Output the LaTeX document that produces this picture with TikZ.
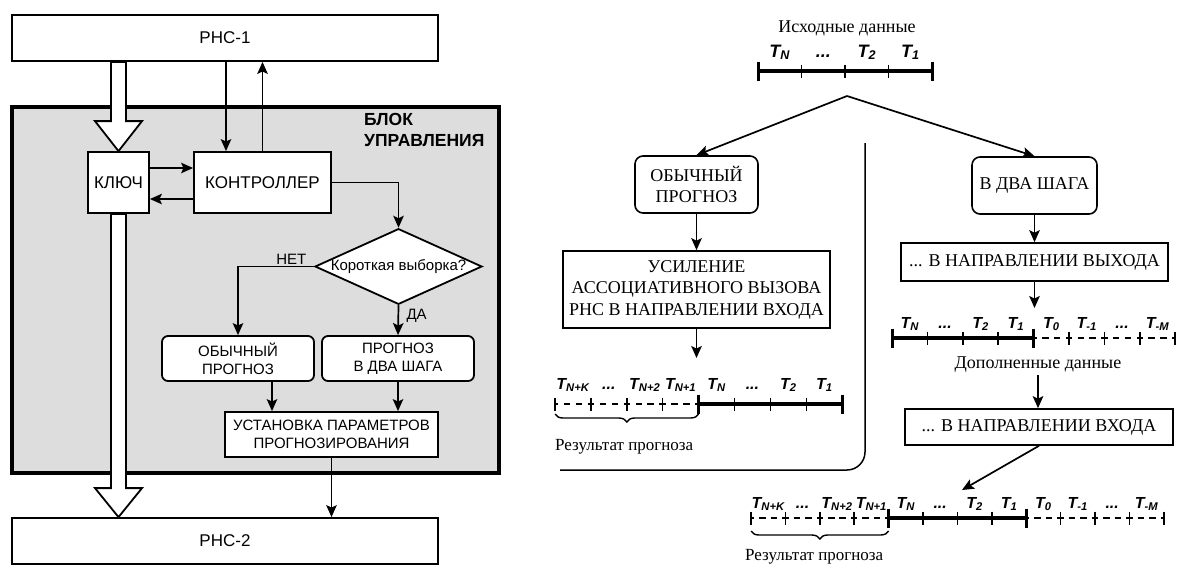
\documentclass[tikz,border=0pt]{standalone}
\usepackage{fontspec}
\setmainfont{Liberation Serif}
\setsansfont{Liberation Sans}
\usetikzlibrary{positioning, calc, arrows.meta, shapes.geometric, decorations.pathreplacing}

\definecolor{blockgray}{RGB}{221,221,221}

\newcommand{\tn}[1]{T\textsubscript{#1}}
\newcommand{\etc}{...}

% one time axis: name, x0, y, step, label lift, kind/label list (d = dashed, s = solid), thick ticks
\newcommand{\timeaxis}[7]{%
  \pgfmathsetmacro{\dgap}{#4/3-6.5}
  \foreach \kind/\lbl [count=\i] in {#6} {
    \pgfmathsetmacro{\xa}{#2+(\i-1)*#4}
    \if\kind d
      \draw[dsh, dash pattern=on 6.5pt off \dgap pt, dash phase=3.25pt] (\xa,#3) -- ++(#4,0);
    \else
      \draw[sld] (\xa,#3) -- ++(#4,0);
    \fi
    \draw[tick] ({\xa+#4},#3) ++(0,-6.5) -- ++(0,13);
    \node[tlab] (#1-\i) at ({\xa+#4/2},{#3-#5}) {\lbl};
  }
  \draw[tick] (#2,#3) ++(0,-6.5) -- ++(0,13);
  \foreach \j in {#7}
    \draw[endtick] ({#2+\j*#4},#3) ++(0,-9.5) -- ++(0,19);
}

\tikzset{
  arr/.style={line width=1.7pt, -{Stealth[length=12pt, width=10.5pt, inset=2.5pt]}},
  sbox/.style={draw, line width=1.8pt, fill=white, inner sep=0pt,
    font=\sffamily\fontsize{17}{20}\selectfont},
  rbox/.style={sbox, rounded corners=6pt, align=center,
    font=\sffamily\fontsize{15}{18}\selectfont},
  hollow/.style={draw, line width=1.8pt, fill=white},
  tbox/.style={draw, line width=1.6pt, fill=white, inner sep=0pt, align=center,
    font=\fontsize{18}{21.5}\selectfont},
  tround/.style={tbox, rounded corners=8pt},
  sld/.style={line width=4pt},
  dsh/.style={line width=1.7pt},
  tick/.style={line width=1.5pt},
  endtick/.style={line width=3pt},
  tlab/.style={font=\sffamily\bfseries\itshape\fontsize{16}{18}\selectfont, anchor=base, inner sep=0pt},
  note/.style={font=\fontsize{18}{21}\selectfont, inner sep=2pt}
}

\begin{document}
\begin{tikzpicture}[x=1pt, y=-1pt]
  \useasboundingbox (0,0) rectangle (1182,568);

  % left: control unit
  \node[sbox, minimum width=426, minimum height=46] (rns1) at (225,38) {РНС-1};
  \node[draw, line width=3.2pt, fill=blockgray, minimum width=487, minimum height=366] (blk) at (255.5,290) {};
  \node[anchor=north west, align=left, inner sep=0pt, font=\sffamily\bfseries\fontsize{17.5}{21}\selectfont] (blkname) at (364,113) {БЛОК\\УПРАВЛЕНИЯ};

  \node[sbox, minimum width=61, minimum height=61] (key) at (118.5,182.5) {КЛЮЧ};
  \node[sbox, minimum width=137, minimum height=61] (ctrl) at (262.5,182.5) {КОНТРОЛЛЕР};
  \node[draw, diamond, aspect=2.2, line width=1.8pt, fill=white, inner sep=0pt, minimum width=167, minimum height=75,
    font=\sffamily\fontsize{15}{18}\selectfont] (short) at (398.5,266.5) {Короткая выборка?};
  \node[rbox, minimum width=152, minimum height=45] (usual) at (238,358.5) {ОБЫЧНЫЙ\\ПРОГНОЗ};
  \node[rbox, minimum width=152, minimum height=45] (twostep) at (398,358.5) {ПРОГНОЗ\\В ДВА ШАГА};
  \node[rbox, rounded corners=0pt, minimum width=213, minimum height=45] (setup) at (331.5,434.5) {УСТАНОВКА ПАРАМЕТРОВ\\ПРОГНОЗИРОВАНИЯ};
  \node[sbox, minimum width=426, minimum height=46] (rns2) at (225,541) {РНС-2};

  \draw[hollow] (key.north) -- ++(-23.5,-30) -- ++(16,0) -- ($(key.north |- rns1.south)+(-7.5,0)$)
    -- ++(15,0) -- ($(key.north)+(7.5,-30)$) -- ++(16,0) -- cycle;
  \coordinate (tip2) at (key.south |- rns2.north);
  \draw[hollow] (tip2) -- ++(-23.5,-29) -- ++(16,0) -- ($(key.south)+(-7.5,0)$)
    -- ++(15,0) -- ($(tip2)+(7.5,-29)$) -- ++(16,0) -- cycle;

  \draw[arr] ([xshift=-36.5pt]ctrl.north |- rns1.south) -- ([xshift=-36.5pt]ctrl.north);
  \draw[arr] (ctrl.north) -- (ctrl.north |- rns1.south);
  \draw[arr] ([yshift=14.5pt]key.east) -- ([yshift=14.5pt]key.east -| ctrl.west);
  \draw[arr] ([yshift=-16.5pt]ctrl.west) -- ([yshift=-16.5pt]ctrl.west -| key.east);
  \draw[arr] (ctrl.east) -| (short.north);
  \draw[arr] (short.west) -| (usual.north) node[pos=0.15, above, inner sep=1pt, font=\sffamily\fontsize{15}{18}\selectfont] {НЕТ};
  \draw[arr] (short.south) -- (twostep.north) node[pos=0.35, right=4pt, font=\sffamily\fontsize{15}{18}\selectfont] {ДА};
  \draw[arr] ([xshift=34pt]usual.south) -- ([xshift=34pt]usual.south |- setup.north);
  \draw[arr] (twostep.south) -- (twostep.south |- setup.north);
  \draw[arr] (setup.south) -- (setup.south |- rns2.north);

  % right: forecast schemes
  \node[note] (src) at (847,28) {Исходные данные};
  \begin{scope}[tlab/.append style={font=\sffamily\bfseries\itshape\fontsize{18}{20}\selectfont}, sld/.append style={line width=4.5pt}]
    \timeaxis{tlS}{758}{71}{43.5}{14}{s/\tn{N}, s/\etc, s/\tn{2}, s/\tn{1}}{0,4}
  \end{scope}
  \coordinate (fork) at (847,96);

  \node[tround, minimum width=123, minimum height=57] (usual2) at (696.5,184.5) {ОБЫЧНЫЙ\\ПРОГНОЗ};
  \node[tbox, minimum width=267, minimum height=77] (boost) at (696.5,289.5) {УСИЛЕНИЕ\\АССОЦИАТИВНОГО ВЫЗОВА\\РНС В НАПРАВЛЕНИИ ВХОДА};
  \timeaxis{tlL}{555}{404}{35.9}{15}{d/\tn{N+K}, d/\etc, d/\tn{N+2}, d/\tn{N+1}, s/\tn{N}, s/\etc, s/\tn{2}, s/\tn{1}}{4,8}
  \draw[line width=1.4pt, decorate, decoration={brace, mirror, amplitude=8pt}] (555,414) -- (698.6,414);
  \node[note, anchor=base west, inner sep=0pt, font=\fontsize{17}{20}\selectfont] (resL) at (555,450) {Результат прогноза};

  \draw[line width=1.5pt, rounded corners=18pt] (865,143) -- (865,470) -- (560,470);

  \node[tround, minimum width=125, minimum height=57] (twostep2) at (1034.5,185.5) {В ДВА ШАГА};
  \node[tbox, minimum width=267, minimum height=38] (outdir) at (1034.5,262) {... В НАПРАВЛЕНИИ ВЫХОДА};
  \timeaxis{tlR}{892}{338}{35.4}{10}{s/\tn{N}, s/\etc, s/\tn{2}, s/\tn{1}, d/\tn{0}, d/\tn{-1}, d/\etc, d/\tn{-M}}{0,4}
  \node[note] (aug) at (1038,365) {Дополненные данные};
  \node[tbox, minimum width=268, minimum height=36] (indir) at (1039,427) {... В НАПРАВЛЕНИИ ВХОДА};
  \timeaxis{tlB}{751}{518}{34.4}{10}{d/\tn{N+K}, d/\etc, d/\tn{N+2}, d/\tn{N+1}, s/\tn{N}, s/\etc, s/\tn{2}, s/\tn{1}, d/\tn{0}, d/\tn{-1}, d/\etc, d/\tn{-M}}{4,8}
  \draw[line width=1.4pt, decorate, decoration={brace, mirror, amplitude=8pt}] (751,531) -- (888.6,531);
  \node[note, anchor=base west, inner sep=0pt, font=\fontsize{17}{20}\selectfont] (resB) at (745,560) {Результат прогноза};

  \coordinate (hitL) at (696.5,358);
  \coordinate (hitR) at (1034.5,308);
  \coordinate (hitB) at (962,490);
  \draw[arr] (fork) -- (usual2.north);
  \draw[arr] (fork) -- (twostep2.north);
  \draw[arr] (usual2.south) -- (boost.north);
  \draw[arr] (boost.south) -- (hitL);
  \draw[arr] (twostep2.south) -- (outdir.north);
  \draw[arr] (outdir.south) -- (hitR);
  \draw[arr] (aug.south) -- (aug.south |- indir.north);
  \draw[arr] (indir.south) -- (hitB);
\end{tikzpicture}
\end{document}
